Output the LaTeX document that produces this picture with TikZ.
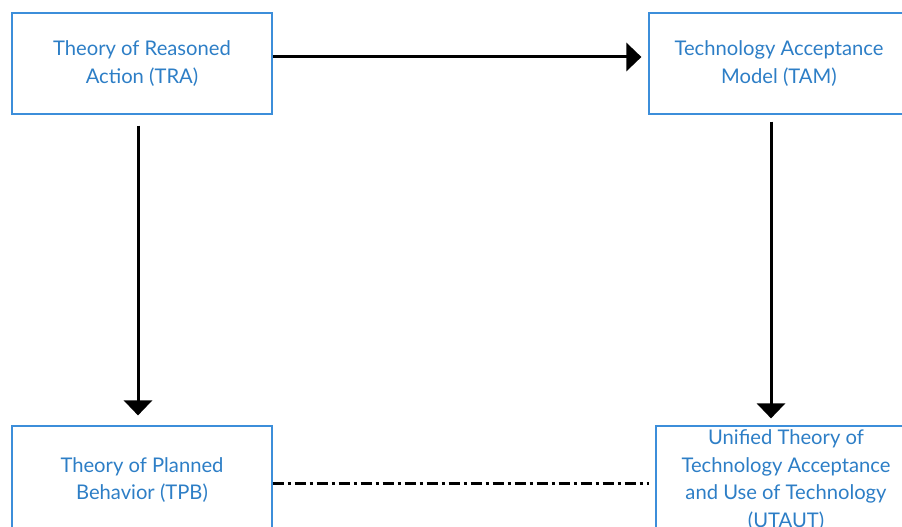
\documentclass[tikz,border=0pt]{standalone}
\usepackage{fontspec}
\setmainfont{Lato}
\usepackage{xcolor}
\usetikzlibrary{arrows.meta,calc,positioning}
\definecolor{boxblue}{RGB}{60,142,218}
\definecolor{textblue}{RGB}{45,126,198}
\tikzset{
  theorybox/.style={draw=boxblue,line width=1.2pt,rectangle,minimum width=260pt,
    text=textblue,align=center,font=\fontsize{20.2}{27.8}\selectfont,inner sep=0pt},
  flow/.style={line width=3pt,-{Triangle[length=15pt,width=28pt]}},
  linkline/.style={line width=3pt,dash pattern=on 11pt off 4pt on 3pt off 4pt}
}
\begin{document}
\begin{tikzpicture}[x=1pt,y=-1pt]
\useasboundingbox (0,0) rectangle (902,527);
\clip (0,0) rectangle (902,527);
% the four models
\node[theorybox,minimum height=101pt] (tra) at (142,63.5) {Theory of Reasoned\\Action (TRA)};
\node[theorybox,minimum height=101pt] (tam) at (779,63.5) {Technology Acceptance\\Model (TAM)};
\node[theorybox,minimum height=108pt] (tpb) at (142,480) {Theory of Planned\\Behavior (TPB)};
\node[theorybox,minimum height=108pt] (utaut) at (786,480) {Unified Theory of\\Technology Acceptance\\and Use of Technology\\(UTAUT)};
% connectors
\draw[flow,shorten >=7pt] ([yshift=6.5pt]tra.east) -- ([yshift=6.5pt]tam.west);
\draw[flow,shorten <=11pt,shorten >=10pt] ([xshift=-4pt]tra.south) -- ([xshift=-4pt]tpb.north);
\draw[flow,shorten <=7pt,shorten >=7pt] ([xshift=-8pt]tam.south) -- ([xshift=-15pt]utaut.north);
\draw[linkline,shorten >=6pt] ([yshift=-3pt]tpb.east) -- ([yshift=-3pt]utaut.west);
\end{tikzpicture}
\end{document}
